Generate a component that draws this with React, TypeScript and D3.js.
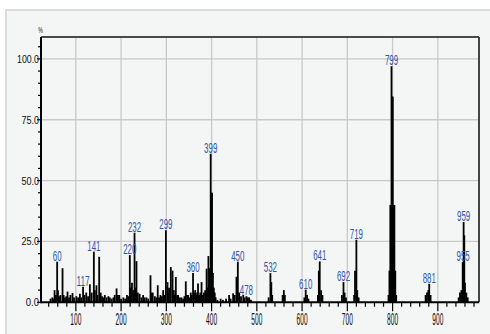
import * as d3 from "d3";

// mass spectrum: [m/z, relative intensity %]
const peaks: [number, number][] = [
  [44, 1.5], [48, 2], [50, 1.5], [53, 5], [56, 3], [58.7, 16.7], [60.5, 5], [63, 2.5], [66, 3],
  [70.6, 14], [73, 3], [76, 2], [79, 2.5], [81.6, 4.4], [85, 2], [88, 3], [92.6, 3.8], [96, 2],
  [101, 2.5], [105, 2], [109, 3.5], [112, 2], [116, 6.4], [119, 3], [123, 4], [127, 2.5],
  [131, 7.4], [135, 4], [139.8, 20.8], [142, 5], [145.6, 7], [148, 3], [151.6, 18.7], [155, 4],
  [158, 2.5], [161, 2], [164, 3], [168, 2], [172, 2.5], [175, 2], [179, 1.5], [183, 2], [186, 3],
  [190, 5.7], [193, 3], [196, 3], [200, 1.5], [205, 2], [209, 1.5], [213, 3], [216, 2.5],
  [219.3, 19.4], [221, 6], [224, 8], [227, 5], [229.7, 28.6], [232, 6], [234, 16.9], [237, 4],
  [241, 3.5], [245, 2], [248.7, 3], [252, 2], [256, 2], [260, 1.5], [265, 11.1], [267, 4],
  [270, 4], [274.6, 2.5], [278, 2], [281, 7], [284, 2], [287, 3], [290, 2.5], [293, 5], [296, 3],
  [299, 29.6], [302.6, 8.3], [304, 4], [306, 6], [309.9, 14.5], [313.7, 13], [316.6, 5], [319, 3],
  [321, 10.4], [324, 3], [326, 3], [330, 2], [333.5, 2], [337, 1.5], [340, 2.5], [343, 8.6],
  [346, 3], [348, 3], [351, 2], [354, 4], [356, 3], [359, 12], [361, 4], [363.7, 5], [366, 3],
  [368, 4], [370, 7.7], [373, 3], [375, 4], [377.8, 8.3], [380, 3], [383, 4], [386, 5],
  [389, 13.8], [391, 6], [393, 19], [395, 14], [398, 61], [399.5, 45], [401, 45], [403, 12],
  [405, 6], [407, 4], [409, 2], [413, 1], [420, 1.5], [425, 1], [432, 1.5], [438.7, 3],
  [442, 1.5], [447.6, 3.7], [451, 3], [455, 10.5], [458, 16.7], [461, 4], [465, 2.5], [470, 3],
  [473, 2], [477, 2.5], [480, 2], [483, 2], [487, 1],
  [526, 2], [530, 12], [532, 8.3], [534, 3],
  [557, 3], [559.7, 5], [562, 3],
  [605, 2], [608, 5.2], [611, 3], [614, 1.5],
  [635, 3], [637, 13], [639, 16.8], [642, 5], [645, 3],
  [688, 3], [691.5, 8.3], [694, 4], [697, 2],
  [715, 3], [717, 13], [720, 25.7], [722, 5], [725, 2],
  [791, 3], [793, 13], [795, 40], [797.6, 97], [799, 84.5], [800.5, 84.5], [802, 40],
  [804, 40], [806, 13], [808, 3],
  [873, 3], [876, 4], [879, 5], [881, 7.6], [884, 3],
  [946, 2], [949, 4], [952, 5], [955, 16.5], [957, 33], [958.5, 27.5], [960, 8], [963, 4], [966, 2],
];

// peak annotations: [text, m/z, intensity at top]
const peakLabels: [string, number, number][] = [
  ["60", 58.7, 16.7], ["117", 116, 6.4], ["141", 139.8, 20.8], ["220", 219.3, 19.4],
  ["232", 229.7, 28.6], ["299", 299, 29.6], ["360", 359, 12], ["399", 398, 61],
  ["450", 458, 16.7], ["478", 477, 2.5], ["532", 530, 12], ["610", 608, 5.2],
  ["641", 639, 16.8], ["692", 691.5, 8.3], ["719", 720, 25.7], ["799", 797.6, 97],
  ["881", 881, 7.6], ["955", 956, 16.5], ["959", 957, 33],
];

const xTickValues = [100, 200, 300, 400, 500, 600, 700, 800, 900];
const yTickValues = [0, 25, 50, 75, 100];

const W = 490;
const H = 334;
const left = 41, top = 37, right = 479, bottom = 302.3;

const x = d3.scaleLinear().domain([23, 991]).range([left, right]);
const y = d3.scaleLinear().domain([0, 109]).range([bottom, top]);

const xMinor = d3.range(40, 981, 20);
const yMinor = d3.range(0, 106, 5);

const narrow = "'Liberation Sans Narrow', 'Liberation Sans', Arial, sans-serif";

export default function App() {
  return (
    <svg width={W} height={H} style={{ position: "absolute", left: 0, top: 0 }}>
      <rect x={0} y={0} width={W} height={H} fill="#fff" />
      <rect x={6} y={10} width={490} height={330} fill="#f4f5f5" stroke="#d2d2d2" strokeWidth={1.5} />

      {/* grid */}
      {xTickValues.map((t) => (
        <line key={"gx" + t} x1={x(t)} x2={x(t)} y1={top} y2={bottom} stroke="#c9c9c9" strokeWidth={1.3} />
      ))}
      {yTickValues.filter((t) => t > 0).map((t) => (
        <line key={"gy" + t} x1={left} x2={right} y1={y(t)} y2={y(t)} stroke="#c9c9c9" strokeWidth={1.3} />
      ))}

      {/* peaks */}
      {peaks.map(([mz, v], i) => (
        <line key={"p" + i} x1={x(mz)} x2={x(mz)} y1={y(0)} y2={y(v)} stroke="#000" strokeWidth={1.8} />
      ))}

      {/* frame */}
      <line x1={left} x2={right} y1={top} y2={top} stroke="#111" strokeWidth={1.5} />
      <line x1={right} x2={right} y1={top} y2={bottom} stroke="#444" strokeWidth={2} />
      <line x1={left} x2={left} y1={top} y2={bottom + 1} stroke="#000" strokeWidth={2} />
      <line x1={left} x2={right} y1={bottom} y2={bottom} stroke="#000" strokeWidth={2} />

      {/* x ticks */}
      {xMinor.map((t) => (
        <line key={"xt" + t} x1={x(t)} x2={x(t)} y1={bottom} y2={bottom + (t % 100 === 0 ? 9 : 4.5)} stroke="#000" strokeWidth={1.2} />
      ))}
      {xTickValues.map((t) => (
        <text key={"xl" + t} x={x(t)} y={325} textAnchor="middle" fontFamily={narrow} fontSize={16}
          textLength={11} lengthAdjust="spacingAndGlyphs" fill="#111">{t}</text>
      ))}

      {/* y ticks */}
      {yMinor.map((t) => (
        <line key={"yt" + t} x1={left - (t % 25 === 0 ? 4 : 3)} x2={left} y1={y(t)} y2={y(t)} stroke="#000" strokeWidth={1.2} />
      ))}
      {yTickValues.map((t) => {
        const s = t.toFixed(1);
        return (
          <text key={"yl" + t} x={39} y={y(t) + 4} textAnchor="end" fontFamily={narrow} fontSize={11.5}
            textLength={s.length * 4.4} lengthAdjust="spacingAndGlyphs" fill="#111">{s}</text>
        );
      })}
      <text x={40.5} y={33} textAnchor="middle" fontFamily={narrow} fontSize={9} textLength={4.5}
        lengthAdjust="spacingAndGlyphs" fill="#111">%</text>

      {/* peak labels */}
      {peakLabels.map(([s, mz, v]) => (
        <text key={"pl" + s} x={x(mz)} y={y(v) - 1} textAnchor="middle" fontFamily={narrow} fontSize={14.5}
          textLength={s.length * 4.4} lengthAdjust="spacingAndGlyphs" fill="#2f55b0">{s}</text>
      ))}
    </svg>
  );
}
